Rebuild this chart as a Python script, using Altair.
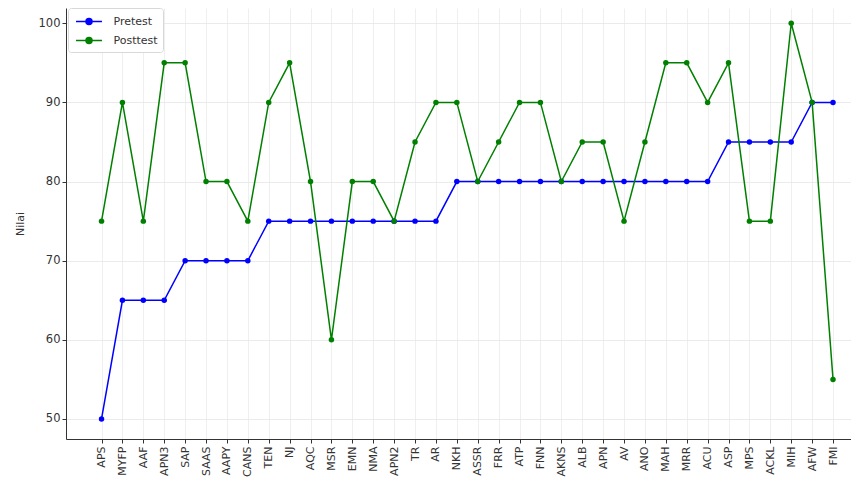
import altair as alt
import pandas as pd

names = ["APS", "MYFP", "AAF", "APN3", "SAP", "SAAS", "AAPY", "CANS", "TEN", "NJ",
         "AQC", "MSR", "EMN", "NMA", "APN2", "TR", "AR", "NKH", "ASSR", "FRR",
         "ATP", "FNN", "AKNS", "ALB", "APN", "AV", "ANO", "MAH", "MRR", "ACU",
         "ASP", "MPS", "ACKL", "MIH", "AFW", "FMI"]
pretest = [50, 65, 65, 65, 70, 70, 70, 70, 75, 75,
           75, 75, 75, 75, 75, 75, 75, 80, 80, 80,
           80, 80, 80, 80, 80, 80, 80, 80, 80, 80,
           85, 85, 85, 85, 90, 90]
posttest = [75, 90, 75, 95, 95, 80, 80, 75, 90, 95,
            80, 60, 80, 80, 75, 85, 90, 90, 80, 85,
            90, 90, 80, 85, 85, 75, 85, 95, 95, 90,
            95, 75, 75, 100, 90, 55]
series = ["Pretest", "Posttest"]
colors = ["#0000ff", "#008000"]

rows = []
for i, n in enumerate(names):
    rows.append({"idx": i, "name": n, "series": "Pretest", "value": pretest[i]})
    rows.append({"idx": i, "name": n, "series": "Posttest", "value": posttest[i]})
df = pd.DataFrame(rows)

label_arr = "[" + ",".join("'" + n + "'" for n in names) + "]"

x = alt.X("idx:Q",
          scale=alt.Scale(domain=[-1.70, 35.86], nice=False, zero=False),
          axis=alt.Axis(values=list(range(len(names))), labelExpr=label_arr + "[datum.value]",
                        labelAngle=-90, labelAlign="right", labelBaseline="middle",
                        labelFontSize=11, labelColor="#333", labelPadding=3,
                        tickSize=4, tickColor="#333", domainColor="#333",
                        grid=True, gridColor="#ebebeb", gridWidth=0.8, title=None,
                        labelOverlap=False))
y = alt.Y("value:Q",
          scale=alt.Scale(domain=[47.47, 101.93], nice=False, zero=False),
          axis=alt.Axis(values=[50, 60, 70, 80, 90, 100], labelFontSize=11.5, labelColor="#333",
                        tickSize=4, tickColor="#333", domainColor="#333",
                        grid=True, gridColor="#e6e6e6", gridWidth=0.8,
                        title="Nilai", titleFontSize=11, titleFontWeight="normal",
                        titleColor="#333", titlePadding=13))
color = alt.Color("series:N", scale=alt.Scale(domain=series, range=colors),
                  legend=alt.Legend(title=None, orient="none", legendX=2, legendY=0,
                                    symbolType="M-1.73,0H1.73M-0.4,0A0.4,0.4,0,1,1,0.4,0A0.4,0.4,0,1,1,-0.4,0Z",
                                    symbolSize=225, symbolStrokeWidth=1.5, symbolOffset=7.5,
                                    labelFontSize=11, labelColor="#333", labelOffset=16,
                                    fillColor="white", strokeColor="#d8d8d8",
                                    padding=5, cornerRadius=3, rowPadding=4))

base = alt.Chart(df).encode(x=x, y=y, color=color, order="idx:Q")
lines = base.mark_line(strokeWidth=1.5, clip=False)
pts = base.mark_point(filled=True, size=30, opacity=1, clip=False)

chart = (lines + pts).properties(
    width=785, height=431,
    padding={"left": 58, "top": 0, "right": 0, "bottom": 40},
    autosize=alt.AutoSizeParams(type="none"),
).configure_view(stroke=None).configure_axis(labelFont="DejaVu Sans", titleFont="DejaVu Sans"
).configure_legend(labelFont="DejaVu Sans")

chart.save("out.html", embed_options={"renderer": "svg", "actions": False})
